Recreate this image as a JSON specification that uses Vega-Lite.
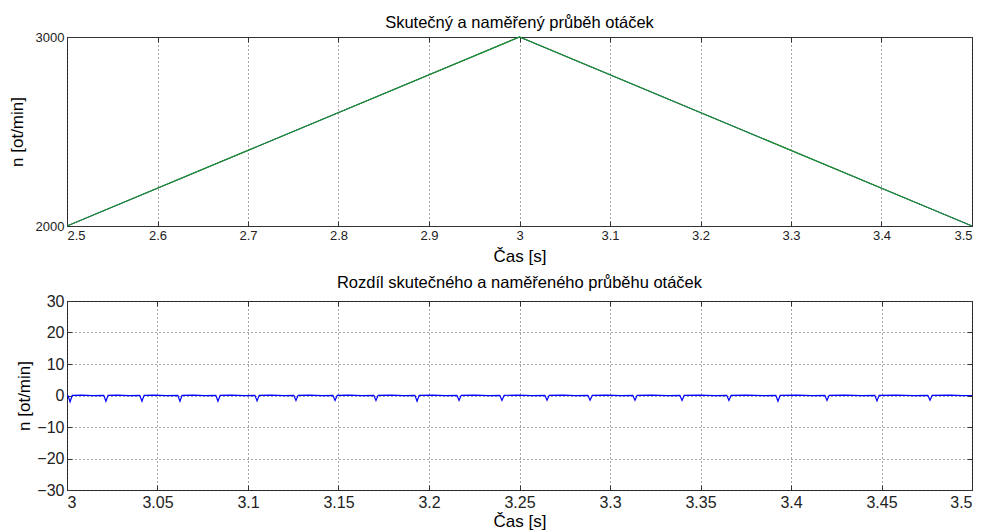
{
  "$schema": "https://vega.github.io/schema/vega-lite/v6.json",
  "background": "white",
  "padding": {"left": 7, "top": 14, "right": 10, "bottom": 0},
  "spacing": 9,
  "config": {
    "font": "Liberation Sans",
    "view": {"stroke": "#333", "strokeWidth": 1},
    "axis": {
      "domain": false,
      "labelFont": "Liberation Sans",
      "titleFont": "Liberation Sans",
      "titleFontWeight": "normal",
      "labelColor": "#222",
      "titleColor": "#000",
      "tickColor": "#333",
      "tickSize": -5,
      "labelPadding": 8,
      "gridColor": "#000",
      "gridDash": [1, 3],
      "gridOpacity": 0.7
    },
    "title": {"font": "Liberation Sans", "fontWeight": "normal", "fontSize": 16.5, "color": "#000"}
  },
  "datasets": {
    "top": [
      {"t": 2.5, "skutecny": 2000, "namereny": 2000},
      {"t": 3.0, "skutecny": 3000, "namereny": 3000},
      {"t": 3.5, "skutecny": 2000, "namereny": 2000}
    ],
    "diff": [
      {"t": 3.0000, "d": 0}, {"t": 3.0005, "d": 0}, {"t": 3.0017, "d": -2.0}, {"t": 3.0029, "d": 0.05},
      {"t": 3.0080, "d": 0.1}, {"t": 3.0140, "d": -0.05}, {"t": 3.0203, "d": 0.05}, {"t": 3.0215, "d": -1.8},
      {"t": 3.0227, "d": 0.05}, {"t": 3.0280, "d": 0.1}, {"t": 3.0340, "d": -0.05}, {"t": 3.0402, "d": 0.05},
      {"t": 3.0414, "d": -1.8}, {"t": 3.0426, "d": 0.05}, {"t": 3.0480, "d": 0.1}, {"t": 3.0550, "d": -0.05},
      {"t": 3.0612, "d": 0.05}, {"t": 3.0624, "d": -1.8}, {"t": 3.0636, "d": 0.05}, {"t": 3.0700, "d": 0.1},
      {"t": 3.0760, "d": -0.05}, {"t": 3.0822, "d": 0.05}, {"t": 3.0834, "d": -1.8}, {"t": 3.0846, "d": 0.05},
      {"t": 3.0910, "d": 0.1}, {"t": 3.0980, "d": -0.05}, {"t": 3.1038, "d": 0.05}, {"t": 3.1050, "d": -1.7},
      {"t": 3.1062, "d": 0.05}, {"t": 3.1130, "d": 0.1}, {"t": 3.1200, "d": -0.05}, {"t": 3.1253, "d": 0.05},
      {"t": 3.1265, "d": -1.6}, {"t": 3.1277, "d": 0.05}, {"t": 3.1340, "d": 0.1}, {"t": 3.1410, "d": -0.05},
      {"t": 3.1469, "d": 0.05}, {"t": 3.1481, "d": -1.6}, {"t": 3.1493, "d": 0.05}, {"t": 3.1560, "d": 0.1},
      {"t": 3.1630, "d": -0.05}, {"t": 3.1695, "d": 0.05}, {"t": 3.1707, "d": -1.6}, {"t": 3.1719, "d": 0.05},
      {"t": 3.1790, "d": 0.1}, {"t": 3.1860, "d": -0.05}, {"t": 3.1922, "d": 0.05}, {"t": 3.1934, "d": -1.8},
      {"t": 3.1946, "d": 0.05}, {"t": 3.2020, "d": 0.1}, {"t": 3.2090, "d": -0.05}, {"t": 3.2154, "d": 0.05},
      {"t": 3.2166, "d": -1.6}, {"t": 3.2178, "d": 0.05}, {"t": 3.2250, "d": 0.1}, {"t": 3.2330, "d": -0.05},
      {"t": 3.2391, "d": 0.05}, {"t": 3.2403, "d": -1.6}, {"t": 3.2415, "d": 0.05}, {"t": 3.2490, "d": 0.1},
      {"t": 3.2570, "d": -0.05}, {"t": 3.2640, "d": 0.05}, {"t": 3.2652, "d": -1.5}, {"t": 3.2664, "d": 0.05},
      {"t": 3.2740, "d": 0.1}, {"t": 3.2810, "d": -0.05}, {"t": 3.2878, "d": 0.05}, {"t": 3.2890, "d": -1.5},
      {"t": 3.2902, "d": 0.05}, {"t": 3.2980, "d": 0.1}, {"t": 3.3060, "d": -0.05}, {"t": 3.3126, "d": 0.05},
      {"t": 3.3138, "d": -1.5}, {"t": 3.3150, "d": 0.05}, {"t": 3.3230, "d": 0.1}, {"t": 3.3320, "d": -0.05},
      {"t": 3.3386, "d": 0.05}, {"t": 3.3398, "d": -1.6}, {"t": 3.3410, "d": 0.05}, {"t": 3.3490, "d": 0.1},
      {"t": 3.3580, "d": -0.05}, {"t": 3.3645, "d": 0.05}, {"t": 3.3657, "d": -1.6}, {"t": 3.3669, "d": 0.05},
      {"t": 3.3750, "d": 0.1}, {"t": 3.3850, "d": -0.05}, {"t": 3.3916, "d": 0.05}, {"t": 3.3928, "d": -1.8},
      {"t": 3.3940, "d": 0.05}, {"t": 3.4030, "d": 0.1}, {"t": 3.4120, "d": -0.05}, {"t": 3.4187, "d": 0.05},
      {"t": 3.4199, "d": -1.6}, {"t": 3.4211, "d": 0.05}, {"t": 3.4300, "d": 0.1}, {"t": 3.4390, "d": -0.05},
      {"t": 3.4463, "d": 0.05}, {"t": 3.4475, "d": -1.7}, {"t": 3.4487, "d": 0.05}, {"t": 3.4580, "d": 0.1},
      {"t": 3.4680, "d": -0.05}, {"t": 3.4756, "d": 0.05}, {"t": 3.4768, "d": -1.5}, {"t": 3.4780, "d": 0.05},
      {"t": 3.4880, "d": 0.1}, {"t": 3.4950, "d": -0.05}, {"t": 3.5000, "d": 0}
    ]
  },
  "vconcat": [
    {
      "width": 905,
      "height": 189,
      "title": {"text": "Skutečný a naměřený průběh otáček", "offset": 0},
      "data": {"name": "top"},
      "resolve": {"axis": {"x": "independent", "y": "independent"}},
      "layer": [
        {
          "mark": {"type": "line", "color": "#0000ff", "strokeWidth": 1},
          "encoding": {
            "x": {"field": "t", "type": "quantitative",
                  "scale": {"domain": [2.5, 3.5], "nice": false, "zero": false},
                  "axis": {"title": "Čas [s]", "values": [2.5, 2.6, 2.7, 2.8, 2.9, 3.0, 3.1, 3.2, 3.3, 3.4, 3.5],
                           "format": "~g", "labelFontSize": 13, "titleFontSize": 17, "titlePadding": 6, "grid": true}},
            "y": {"field": "skutecny", "type": "quantitative",
                  "scale": {"domain": [2000, 3000], "nice": false, "zero": false},
                  "axis": {"title": "n [ot/min]", "values": [2000, 3000], "format": "d", "labelFontSize": 13,
                           "titleFontSize": 17, "titlePadding": 9, "grid": false}}
          }
        },
        {
          "mark": {"type": "line", "color": "#1f931f", "strokeWidth": 1.3},
          "encoding": {
            "x": {"field": "t", "type": "quantitative",
                  "axis": {"orient": "top", "title": null, "labels": false, "grid": false,
                           "values": [2.5, 2.6, 2.7, 2.8, 2.9, 3.0, 3.1, 3.2, 3.3, 3.4, 3.5]}},
            "y": {"field": "namereny", "type": "quantitative", "axis": null}
          }
        }
      ]
    },
    {
      "width": 905,
      "height": 189,
      "title": {"text": "Rozdíl skutečného a naměřeného průběhu otáček", "offset": 2},
      "data": {"name": "diff"},
      "resolve": {"axis": {"x": "independent", "y": "independent"}},
      "layer": [
        {
          "mark": {"type": "line", "color": "#0000ff", "strokeWidth": 1.2},
          "encoding": {
            "x": {"field": "t", "type": "quantitative",
                  "scale": {"domain": [3.0, 3.5], "nice": false, "zero": false},
                  "axis": {"title": "Čas [s]", "values": [3.0, 3.05, 3.1, 3.15, 3.2, 3.25, 3.3, 3.35, 3.4, 3.45, 3.5],
                           "format": "~g", "labelFontSize": 16, "titleFontSize": 17, "titlePadding": 3, "labelPadding": 9, "grid": true}},
            "y": {"field": "d", "type": "quantitative",
                  "scale": {"domain": [-30, 30], "nice": false},
                  "axis": {"title": "n [ot/min]", "values": [-30, -20, -10, 0, 10, 20, 30], "labelFontSize": 16,
                           "titleFontSize": 17, "titlePadding": 3, "grid": true}}
          }
        },
        {
          "mark": {"type": "point", "opacity": 0, "size": 1},
          "encoding": {
            "x": {"field": "t", "type": "quantitative",
                  "axis": {"orient": "top", "title": null, "labels": false, "grid": false,
                           "values": [3.0, 3.05, 3.1, 3.15, 3.2, 3.25, 3.3, 3.35, 3.4, 3.45, 3.5]}},
            "y": {"field": "d", "type": "quantitative",
                  "axis": {"orient": "right", "title": null, "labels": false, "grid": false,
                           "values": [-30, -20, -10, 0, 10, 20, 30]}}
          }
        }
      ]
    }
  ]
}
